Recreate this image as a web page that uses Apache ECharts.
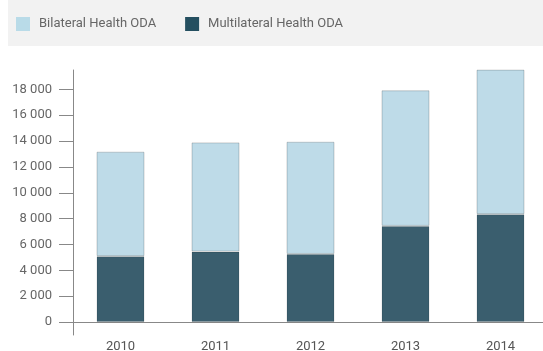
<!DOCTYPE html>
<html>
<head>
<meta charset="utf-8">
<script src="https://cdn.jsdelivr.net/npm/echarts@6/dist/echarts.min.js"></script>
<style>
html,body{margin:0;padding:0;background:#fff;}
#main{width:543px;height:351px;}
</style>
</head>
<body>
<div id="main"></div>
<script>
var years = ['2010', '2011', '2012', '2013', '2014'];
var bilateral = [8080, 8450, 8680, 10490, 11180];
var multilateral = [5100, 5450, 5270, 7440, 8350];
var yTicks = [0, 2000, 4000, 6000, 8000, 10000, 12000, 14000, 16000, 18000];
var seriesNames = ['Bilateral Health ODA', 'Multilateral Health ODA'];

var FONT = 'Roboto, "Liberation Sans", sans-serif';
var chart = echarts.init(document.getElementById('main'), null, {renderer: 'canvas'});

function fmt(v) {
  return String(v).replace(/\B(?=(\d{3})+(?!\d))/g, ' ');
}

chart.setOption({
  animation: false,
  backgroundColor: '#fff',
  graphic: [{
    type: 'rect', left: 8, top: 0, z: -10,
    shape: {width: 535, height: 46},
    style: {fill: '#f2f2f2'}
  }],
  legend: {
    left: 9, top: 10, padding: 7,
    itemWidth: 14, itemHeight: 14, itemGap: 29,
    icon: 'rect',
    textStyle: {fontFamily: FONT, fontSize: 13, color: '#666', padding: [0, 0, 0, 4]},
    data: [
      {name: seriesNames[0], itemStyle: {color: '#b9dbe8', borderWidth: 0}},
      {name: seriesNames[1], itemStyle: {color: '#244f60', borderWidth: 0}}
    ]
  },
  grid: {left: 73, right: -5, top: 70, bottom: 16, containLabel: false, outerBoundsMode: 'none'},
  xAxis: {
    type: 'category',
    data: years,
    axisLine: {onZero: true, lineStyle: {color: '#888', width: 1}},
    axisTick: {show: false},
    axisLabel: {fontFamily: FONT, fontSize: 13, color: '#555', margin: 5}
  },
  yAxis: {
    type: 'value',
    min: -1000, max: 19500,
    splitLine: {show: false},
    axisLine: {show: true, lineStyle: {color: '#888', width: 1}},
    axisTick: {show: true, length: 14, customValues: yTicks, lineStyle: {color: '#888'}},
    axisLabel: {fontFamily: FONT, fontSize: 13, color: '#666', margin: 21, customValues: yTicks, formatter: fmt}
  },
  series: [
    {
      name: seriesNames[1], type: 'bar', stack: 'oda', barWidth: 48,
      data: multilateral,
      itemStyle: {color: '#3a5e6e', borderColor: 'rgba(0,0,0,0.12)', borderWidth: 1}
    },
    {
      name: seriesNames[0], type: 'bar', stack: 'oda', barWidth: 48,
      data: bilateral,
      itemStyle: {color: '#bedbe8', borderColor: 'rgba(0,0,0,0.18)', borderWidth: 1}
    }
  ]
});
</script>
</body>
</html>
